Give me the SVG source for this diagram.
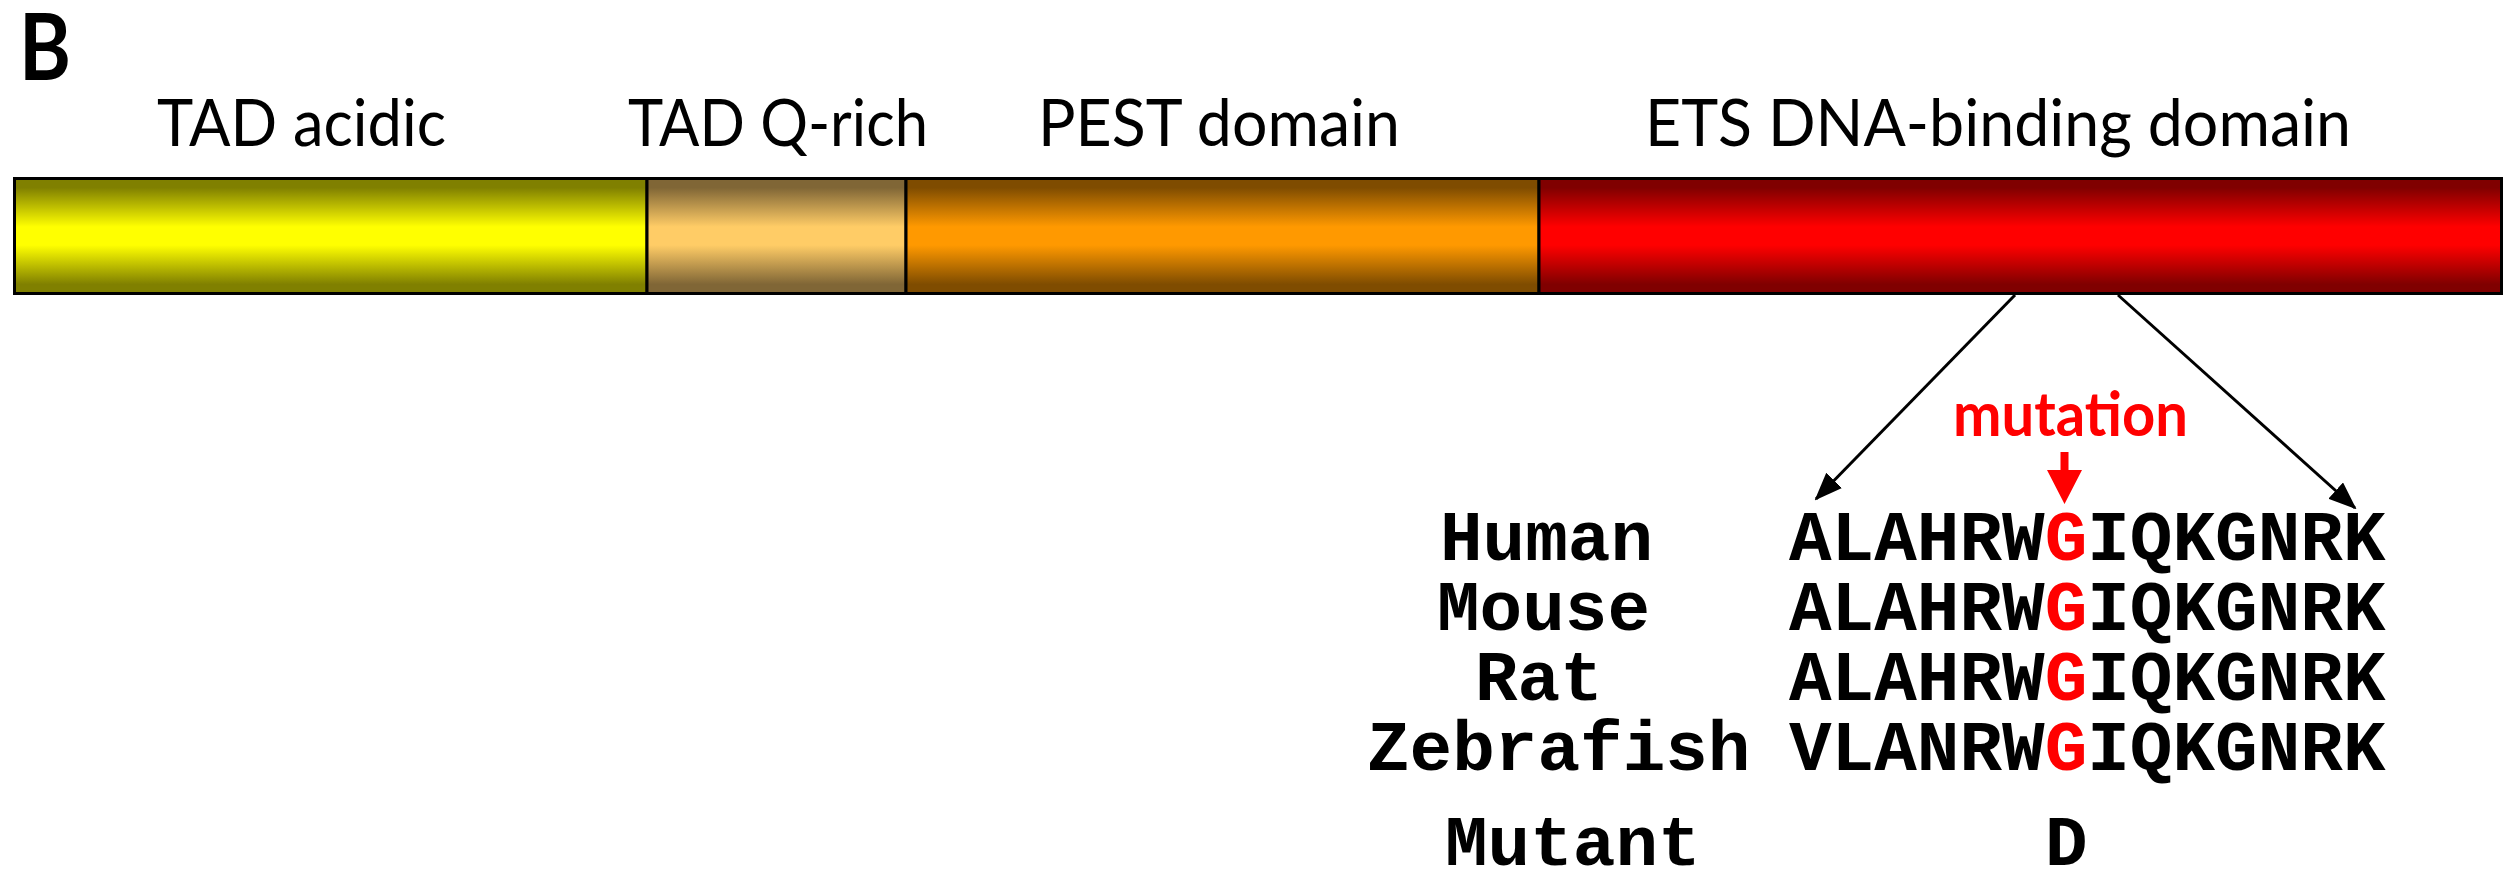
<svg xmlns="http://www.w3.org/2000/svg" width="2518" height="874" viewBox="0 0 2518 874">
  <style>
    .dom { font-family: Lato, "Open Sans", "Liberation Sans", sans-serif; font-size: 65px; fill: #000; }
    .seg { stroke: #000; stroke-width: 3; }
    .mono { font-family: "Liberation Mono", "DejaVu Sans Mono", monospace; font-weight: bold; font-size: 71px; fill: #000; }
    .red { fill: #ff0000; }
    .conn { stroke: #000; stroke-width: 3; fill: none; marker-end: url(#head); }
  </style>
  <defs>
    <linearGradient id="gYellow" x1="0" y1="0" x2="0" y2="1">
      <stop offset="0" stop-color="#808000"/>
      <stop offset="0.08" stop-color="#808000"/>
      <stop offset="0.42" stop-color="#ffff00"/>
      <stop offset="0.58" stop-color="#ffff00"/>
      <stop offset="0.92" stop-color="#808000"/>
      <stop offset="1" stop-color="#808000"/>
    </linearGradient>
    <linearGradient id="gTan" x1="0" y1="0" x2="0" y2="1">
      <stop offset="0" stop-color="#806636"/>
      <stop offset="0.08" stop-color="#806636"/>
      <stop offset="0.42" stop-color="#ffcc66"/>
      <stop offset="0.58" stop-color="#ffcc66"/>
      <stop offset="0.92" stop-color="#806636"/>
      <stop offset="1" stop-color="#806636"/>
    </linearGradient>
    <linearGradient id="gOrange" x1="0" y1="0" x2="0" y2="1">
      <stop offset="0" stop-color="#7f4c00"/>
      <stop offset="0.08" stop-color="#7f4c00"/>
      <stop offset="0.42" stop-color="#ff9900"/>
      <stop offset="0.58" stop-color="#ff9900"/>
      <stop offset="0.92" stop-color="#7f4c00"/>
      <stop offset="1" stop-color="#7f4c00"/>
    </linearGradient>
    <linearGradient id="gRed" x1="0" y1="0" x2="0" y2="1">
      <stop offset="0" stop-color="#800000"/>
      <stop offset="0.08" stop-color="#800000"/>
      <stop offset="0.42" stop-color="#ff0000"/>
      <stop offset="0.58" stop-color="#ff0000"/>
      <stop offset="0.92" stop-color="#800000"/>
      <stop offset="1" stop-color="#800000"/>
    </linearGradient>
    <marker id="head" markerUnits="userSpaceOnUse" viewBox="0 0 28 22" refX="26" refY="11" markerWidth="28" markerHeight="22" orient="auto">
      <path d="M0,0 L28,11 L0,22 z" fill="#000"/>
    </marker>
  </defs>

  <rect width="2518" height="874" fill="#fff"/>

  <!-- panel letter -->
  <text x="19" y="80" font-family="Lato, 'Liberation Sans', sans-serif" font-weight="bold" font-size="92" textLength="52" lengthAdjust="spacingAndGlyphs">B</text>

  <!-- domain labels -->
  <text class="dom" x="157" y="146" textLength="289" lengthAdjust="spacingAndGlyphs">TAD acidic</text>
  <text class="dom" x="628" y="146" textLength="300" lengthAdjust="spacingAndGlyphs">TAD Q-rich</text>
  <text class="dom" x="1038" y="146" textLength="362" lengthAdjust="spacingAndGlyphs">PEST domain</text>
  <text class="dom" x="1645" y="146" textLength="706" lengthAdjust="spacingAndGlyphs">ETS DNA-binding domain</text>

  <!-- protein domains -->
  <g id="tad-acidic">
    <rect class="seg" x="14.5" y="178.5" width="632.5" height="115" fill="url(#gYellow)"/>
  </g>
  <g id="tad-qrich">
    <rect class="seg" x="647" y="178.5" width="259" height="115" fill="url(#gTan)"/>
  </g>
  <g id="pest">
    <rect class="seg" x="906" y="178.5" width="633" height="115" fill="url(#gOrange)"/>
  </g>
  <g id="ets">
    <rect class="seg" x="1539" y="178.5" width="962.5" height="115" fill="url(#gRed)"/>
  </g>

  <!-- zoom-in lines from the ETS domain to the sequence -->
  <g id="connectors">
    <line class="conn" x1="2015" y1="295" x2="1816" y2="499"/>
    <line class="conn" x1="2118" y1="295" x2="2355" y2="508"/>
  </g>

  <!-- mutation marker -->
  <g id="mutation">
    <text x="1953" y="436" font-family="Lato, 'Liberation Sans', sans-serif" font-weight="bold" font-size="62" fill="#ff0000" textLength="235" lengthAdjust="spacingAndGlyphs">mutation</text>
    <polygon points="2060.5,452 2068.5,452 2068.5,470 2082,470 2064.5,504 2047,470 2060.5,470" fill="#ff0000"/>
  </g>

  <!-- species labels -->
  <g id="species">
    <text class="mono" x="1440" y="560">Human</text>
    <text class="mono" x="1437" y="630">Mouse</text>
    <text class="mono" x="1475" y="700">Rat</text>
    <text class="mono" x="1367" y="770">Zebrafish</text>
    <text class="mono" x="1445" y="865">Mutant</text>
  </g>

  <!-- aligned sequences -->
  <g id="alignment">
    <text class="mono" x="1789" y="560">ALAHRW<tspan class="red">G</tspan>IQKGNRK</text>
    <text class="mono" x="1789" y="630">ALAHRW<tspan class="red">G</tspan>IQKGNRK</text>
    <text class="mono" x="1789" y="700">ALAHRW<tspan class="red">G</tspan>IQKGNRK</text>
    <text class="mono" x="1789" y="770">VLANRW<tspan class="red">G</tspan>IQKGNRK</text>
    <text class="mono" x="2045" y="865">D</text>
  </g>
</svg>
